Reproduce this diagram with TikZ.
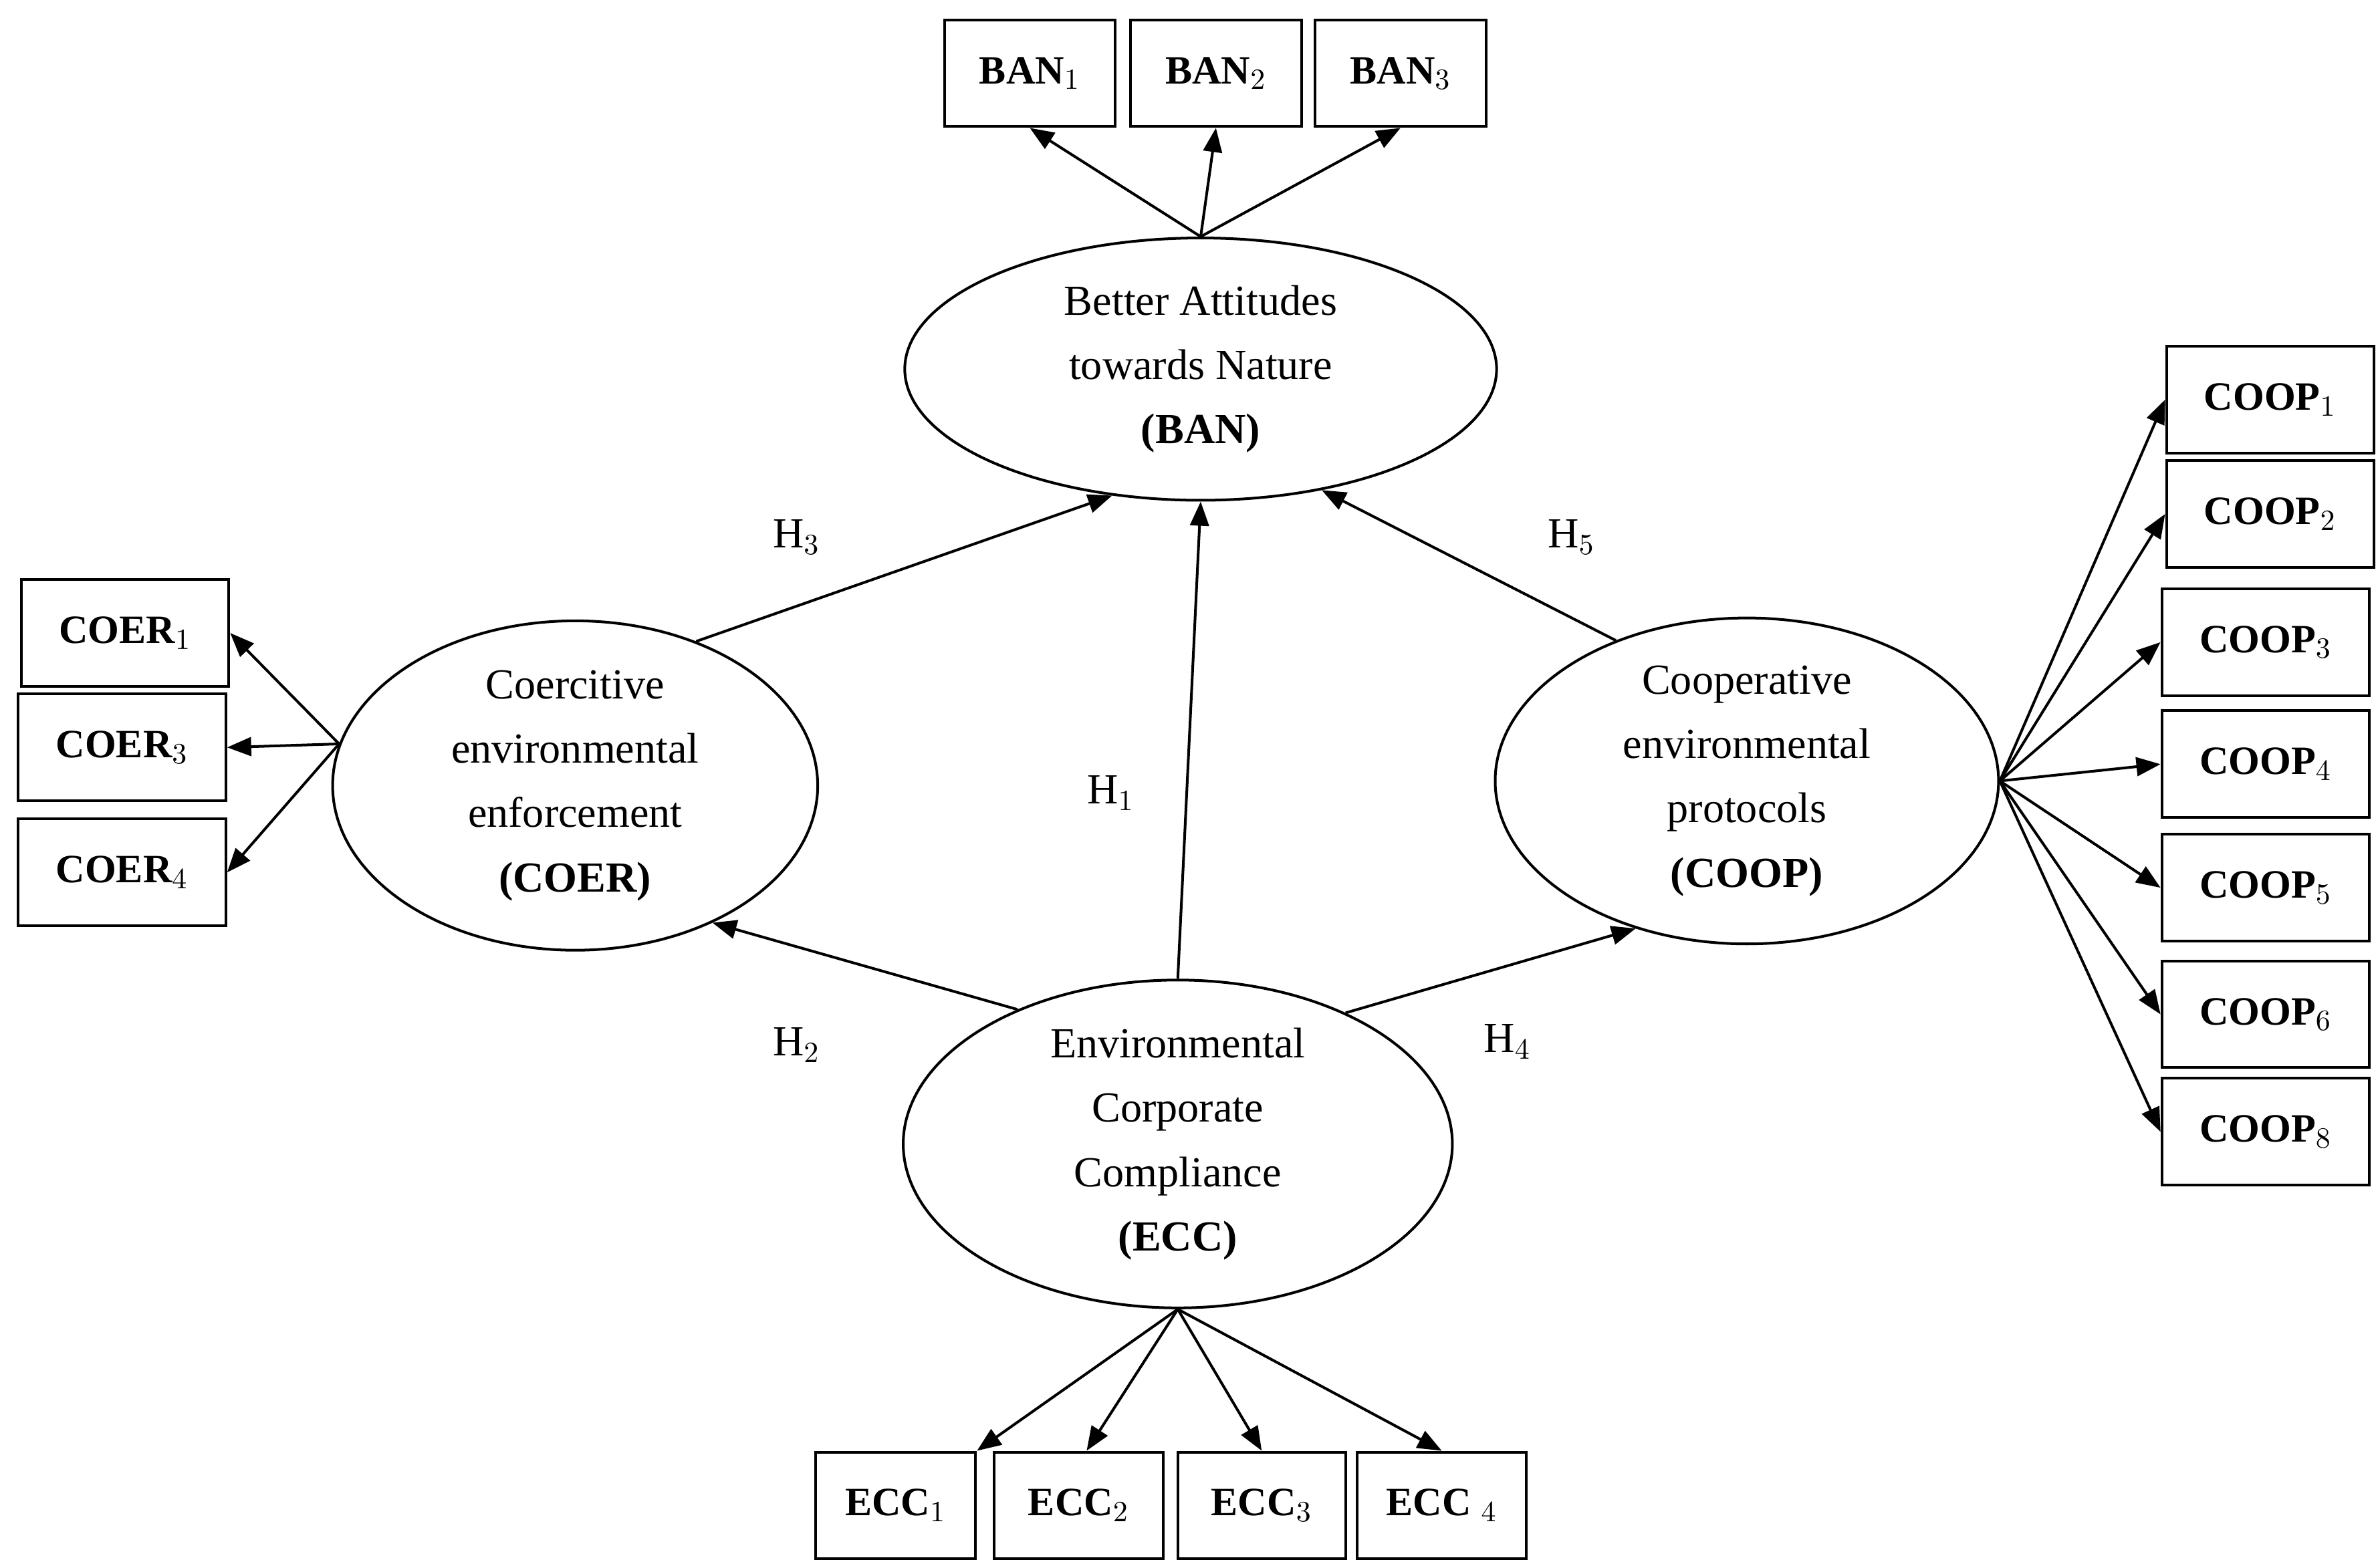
\documentclass[tikz,border=0pt]{standalone}
\usepackage{fontspec}
\setmainfont{Liberation Serif}
\usetikzlibrary{shapes.geometric,arrows.meta}
\begin{document}
\begin{tikzpicture}[x=0.02cm,y=-0.02cm,
  box/.style={draw,line width=1pt,minimum height=1.4cm,font=\fontsize{15}{18}\selectfont\bfseries,inner sep=0pt},
  lat/.style={draw,ellipse,line width=1pt,inner sep=0pt,align=center,font=\fontsize{16}{24}\selectfont},
  arr/.style={line width=1pt,-{Triangle[length=9pt,width=7pt]}},
  hl/.style={font=\fontsize{16}{20}\selectfont}]
\useasboundingbox (0,0) rectangle (1560,1025);
\node[lat,minimum width=7.76cm,minimum height=3.44cm] (ban) at (787,242) {Better Attitudes\\towards Nature\\\textbf{(BAN)}};
\node[lat,minimum width=6.36cm,minimum height=4.32cm] (coer) at (377,515) {Coercitive\\environmental\\enforcement\\\textbf{(COER)}};
\node[lat,minimum width=6.6cm,minimum height=4.2cm] (coop) at (1145,512) {Cooperative\\environmental\\protocols\\\textbf{(COOP)}};
\node[lat,minimum width=7.2cm,minimum height=4.28cm] (ecc) at (772,750) {Environmental\\Corporate\\Compliance\\\textbf{(ECC)}};
\foreach \n/\x/\t in {b1/675/BAN$_1$,b2/797/BAN$_2$,b3/918/BAN$_3$}
  \node[box,minimum width=2.24cm] (\n) at (\x,48) {\t};
\node[box,minimum width=2.72cm] (c1) at (82,415) {COER$_1$};
\node[box,minimum width=2.72cm] (c3) at (80,490) {COER$_3$};
\node[box,minimum width=2.72cm] (c4) at (80,572) {COER$_4$};
\foreach \n/\x/\y/\t in {p1/1488/262/1,p2/1488/337/2,p3/1485/421/3,p4/1485/501/4,p5/1485/582/5,p6/1485/665/6,p8/1485/742/8}
  \node[box,minimum width=2.72cm] (\n) at (\x,\y) {COOP$_\t$};
\node[box,minimum width=2.1cm] (e1) at (587,987) {ECC$_1$};
\node[box,minimum width=2.22cm] (e2) at (707,987) {ECC$_2$};
\node[box,minimum width=2.2cm] (e3) at (827,987) {ECC$_3$};
\node[box,minimum width=2.22cm] (e4) at (945,987) {ECC $_4$};
\coordinate (bt) at (ban.north);
\foreach \b in {b1,b2,b3} \draw[arr] (bt) -- (\b.south);
\coordinate (cl) at (coer.170);
\foreach \b in {c1,c3,c4} \draw[arr] (cl) -- (\b.east);
\coordinate (pr) at (coop.east);
\foreach \b in {p1,p2,p3,p4,p5,p6,p8} \draw[arr] (pr) -- (\b.west);
\coordinate (eb) at (ecc.south);
\draw[arr] (eb) -- (e1.north east);
\draw[arr] (eb) -- ([xshift=3pt]e2.north);
\draw[arr] (eb) -- (e3.north);
\draw[arr] (eb) -- (e4.north);
\draw[arr] (ecc.north) -- (ban.south);
\draw[arr] (coer.50) -- (ban.235);
\draw[arr] (coop.133) -- (ban.-45);
\draw[arr] (ecc.140) -- (coer.-45);
\draw[arr] (ecc.38) -- (coop.233);
\node[hl] (h3) at (522,352) {H$_3$};
\node[hl] (h5) at (1030,352) {H$_5$};
\node[hl] (h1) at (728,520) {H$_1$};
\node[hl] (h2) at (522,685) {H$_2$};
\node[hl] (h4) at (988,683) {H$_4$};
\end{tikzpicture}
\end{document}
